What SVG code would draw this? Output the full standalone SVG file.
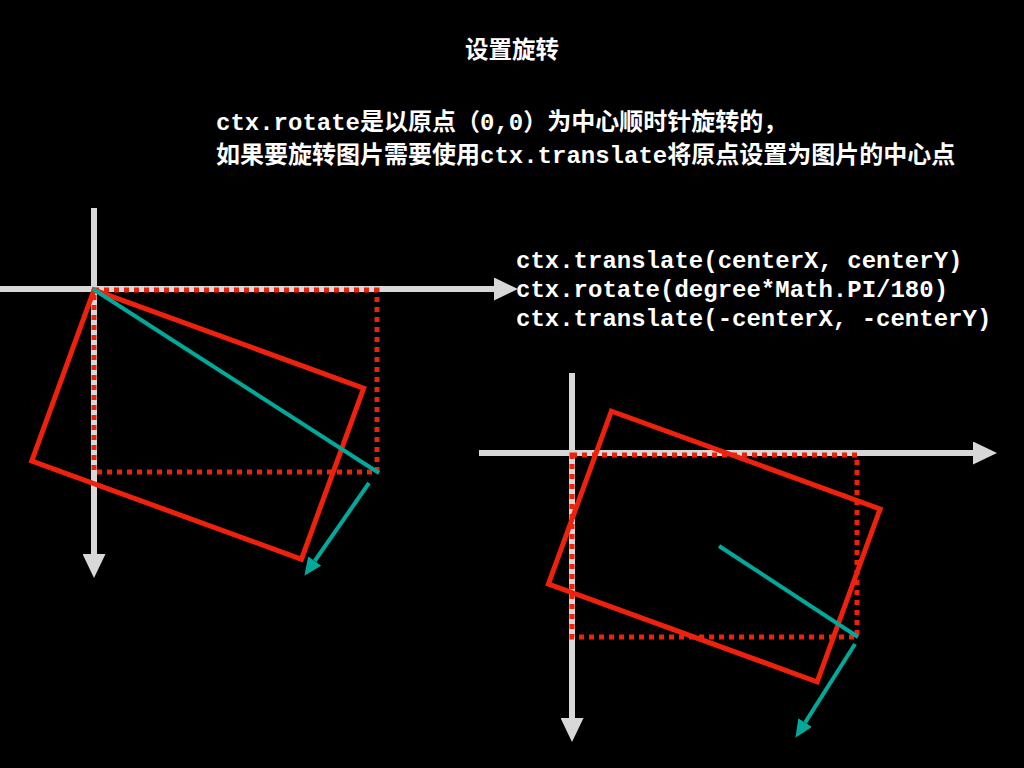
<svg xmlns="http://www.w3.org/2000/svg" width="1024" height="768" viewBox="0 0 1024 768">
  <style>
    .axis { stroke: #d8d8d8; stroke-width: 6; fill: none; }
    .dotted { stroke: #ee220c; stroke-width: 5; stroke-dasharray: 5 5; fill: none; }
    .rot { stroke: #ee220c; stroke-width: 5; fill: none; }
    .teal { stroke: #00a99a; stroke-width: 4; fill: none; }
    .title { font-family: "Noto Sans CJK SC", sans-serif; font-weight: bold; font-size: 23.5px; fill: #ffffff; }
    .txt { font-family: "Liberation Mono", "Noto Sans CJK SC", monospace; font-weight: bold; font-size: 24px; fill: #ffffff; }
  </style>
  <defs>
    <marker id="axisHead" markerUnits="userSpaceOnUse" markerWidth="24" markerHeight="23" refX="0" refY="11.5" orient="auto">
      <path d="M0,0 L24,11.5 L0,23 Z" fill="#d8d8d8"/>
    </marker>
    <marker id="tealHead" markerUnits="userSpaceOnUse" markerWidth="18" markerHeight="16" refX="0" refY="8" orient="auto">
      <path d="M0,0 L18,8 L0,16 Z" fill="#00a99a"/>
    </marker>
  </defs>
  <rect x="0" y="0" width="1024" height="768" fill="#000000"/>

  <g id="title">
    <text class="title" x="512" y="58" text-anchor="middle">设置旋转</text>
  </g>
  <g id="description">
    <text class="txt" x="216" y="130">ctx.rotate是以原点（0,0）为中心顺时针旋转的，</text>
    <text class="txt" x="216" y="163">如果要旋转图片需要使用ctx.translate将原点设置为图片的中心点</text>
  </g>
  <g id="code">
    <text class="txt" x="516" y="268">ctx.translate(centerX, centerY)</text>
    <text class="txt" x="516" y="297">ctx.rotate(degree*Math.PI/180)</text>
    <text class="txt" x="516" y="326">ctx.translate(-centerX, -centerY)</text>
  </g>

  <g id="left-diagram">
    <g id="left-axes">
      <line class="axis" x1="0" y1="289" x2="494" y2="289" marker-end="url(#axisHead)"/>
      <line class="axis" x1="94" y1="208" x2="94" y2="554" marker-end="url(#axisHead)"/>
    </g>
    <rect id="left-original" class="dotted" x="94" y="290" width="283" height="182"/>
    <rect id="left-rotated" class="rot" x="94" y="290" width="287" height="182" transform="rotate(20 94 290)"/>
  </g>

  <g id="right-diagram">
    <g id="right-axes">
      <line class="axis" x1="479" y1="453" x2="973" y2="453" marker-end="url(#axisHead)"/>
      <line class="axis" x1="572" y1="373" x2="572" y2="718" marker-end="url(#axisHead)"/>
    </g>
    <rect id="right-original" class="dotted" x="572" y="455" width="285" height="182"/>
    <rect id="right-rotated" class="rot" x="571.25" y="454.5" width="286" height="184" transform="rotate(20 714.25 546.5)"/>
  </g>

  <g id="connectors">
    <line class="teal" x1="93" y1="289" x2="379" y2="473"/>
    <line class="teal" x1="369" y1="483" x2="314.7" y2="561" marker-end="url(#tealHead)"/>
    <line class="teal" x1="719" y1="546" x2="858" y2="637"/>
    <line class="teal" x1="855" y1="644" x2="805.1" y2="722.6" marker-end="url(#tealHead)"/>
  </g>
</svg>
